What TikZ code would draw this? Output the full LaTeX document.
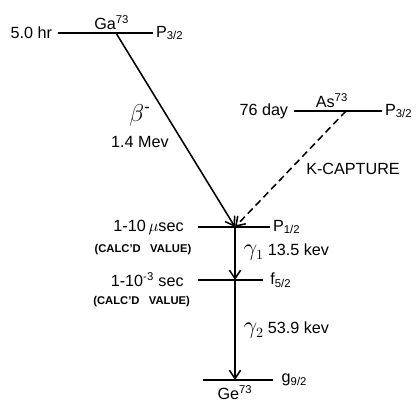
\documentclass[tikz,border=0pt]{standalone}
\usepackage{fontspec}
\setmainfont{Liberation Sans}
\usetikzlibrary{positioning, calc, arrows.meta}

\tikzset{
  level/.style={line width=1.1pt},
  decay/.style={line width=1.1pt, -{Straight Barb[length=6pt,width=8pt]}},
  note/.style={font=\fontsize{8}{9}\selectfont\bfseries, inner sep=1pt},
}

\begin{document}
\begin{tikzpicture}[x=0.025cm, y=-0.025cm, font=\fontsize{11.5}{14}\selectfont]
\useasboundingbox (0,0) rectangle (418,406);

% ================= Ga73 level =================
\coordinate (gaL) at (58,33);
\coordinate (gaR) at (153,33);
\coordinate (gaM) at (116,33);
\draw[level] (gaL) -- (gaR);
\node[left=3pt of gaL, inner sep=1pt] (gatime) {5.0 hr};
\node[right=1pt of gaR, inner sep=1pt] (gaspin) {P\textsubscript{3/2}};
\node[above=1pt of gaM, xshift=-3pt, inner sep=1pt] (ga) {Ga\textsuperscript{73}};

% ================= As73 level =================
\coordinate (asL) at (294,111);
\coordinate (asR) at (382,111);
\coordinate (asM) at (346,111);
\draw[level] (asL) -- (asR);
\node[left=3pt of asL, inner sep=1pt] (astime) {76 day};
\node[right=1pt of asR, inner sep=1pt] (asspin) {P\textsubscript{3/2}};
\node[above=1pt of asM, xshift=-10pt, inner sep=1pt] (as) {As\textsuperscript{73}};

% ================= P1/2 level =================
\coordinate (pL) at (198,227);
\coordinate (pR) at (270,227);
\coordinate (pM) at (235,227);
\draw[level] (pL) -- (pR);
\node[left=9pt of pL, inner sep=1pt] (ptime) {1-10\,$\mu$sec};
\node[right=1pt of pR, inner sep=1pt] (pspin) {P\textsubscript{1/2}};
\node[note, below=5pt of ptime, xshift=-4pt] (pcalc) {(CALC'D\ \ \ VALUE)};

% ================= f5/2 level =================
\coordinate (fL) at (198,280);
\coordinate (fR) at (263,280);
\coordinate (fM) at (235,280);
\draw[level] (fL) -- (fR);
\node[left=9pt of fL, inner sep=1pt] (ftime) {1-10\textsuperscript{-3} sec};
\node[right=4pt of fR, inner sep=1pt] (fspin) {f\textsubscript{5/2}};
\node[note, below=4pt of ftime, xshift=-4pt] (fcalc) {(CALC'D\ \ \ VALUE)};

% ================= Ge73 ground level =================
\coordinate (gL) at (203,380);
\coordinate (gR) at (273,380);
\coordinate (gM) at (235,380);
\draw[level] (gL) -- (gR);
\node[right=5pt of gR, inner sep=1pt] (gspin) {g\textsubscript{9/2}};
\node[below=3pt of gM, inner sep=1pt] (ge) {Ge\textsuperscript{73}};

% ================= transitions =================
\draw[decay] (gaM) -- (pM);
\draw[decay, dash pattern=on 5pt off 3pt] (asM) -- (pM);
\draw[decay] (pM) -- (fM);
\draw[decay] (fM) -- (gM);

% labels on transitions
\node[inner sep=1pt] (beta) at (140,115) {\LARGE$\beta$\textsuperscript{-}};
\node[inner sep=1pt] (betaE) at (140,142) {1.4 Mev};
\node[inner sep=1pt] (kcap) at (353,169) {K-CAPTURE};
\node[inner sep=1pt, anchor=west] (g1) at (242,252) {\LARGE$\gamma_{\scriptscriptstyle 1}$\,\fontsize{11.5}{14}\selectfont 13.5 kev};
\node[inner sep=1pt, anchor=west] (g2) at (242,330) {\LARGE$\gamma_{\scriptscriptstyle 2}$\,\fontsize{11.5}{14}\selectfont 53.9 kev};

\end{tikzpicture}
\end{document}
